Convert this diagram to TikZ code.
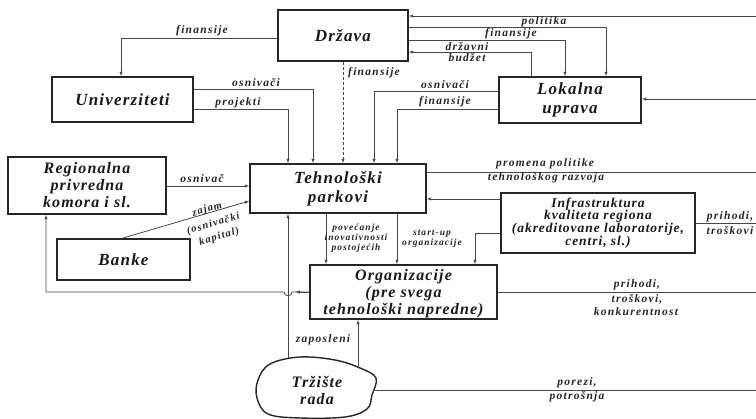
\documentclass[tikz,border=0pt]{standalone}
\usepackage{fontspec}
\setmainfont{Liberation Serif}
\newfontfamily\boxfam[LetterSpace=7]{Liberation Serif}
\newfontfamily\lblfam[LetterSpace=11]{Liberation Serif}
\usetikzlibrary{arrows.meta,calc}

\newcommand\bigbox{\boxfam\bfseries\itshape\fontsize{17}{19}\selectfont}
\newcommand\midbox{\boxfam\bfseries\itshape\fontsize{16}{17}\selectfont}
\newcommand\infbox{\boxfam\bfseries\itshape\fontsize{13.5}{12.8}\selectfont}
\newcommand\lblA{\lblfam\bfseries\itshape\fontsize{11.5}{13.5}\selectfont}
\newcommand\lblS{\lblfam\bfseries\itshape\fontsize{9.5}{10}\selectfont}
\newcommand\lblR{\lblfam\bfseries\itshape\fontsize{10.5}{12.5}\selectfont}

\begin{document}
\begin{tikzpicture}[x=1pt,y=-1pt,
  box/.style={draw=black!85, line width=1.4pt, fill=white, inner sep=0pt,
              align=center, text=black!90, font=\bigbox},
  conn/.style={draw=black!72, line width=0.8pt},
  arr/.style={conn, -{Latex[length=4.5pt,width=3.4pt]}},
  lbl/.style={inner sep=0pt, text=black!85, font=\lblA, align=center},
  slbl/.style={lbl, font=\lblS},
  rlbl/.style={inner sep=0pt, text=black!85, font=\lblR, rotate=16.5, anchor=base}]
\useasboundingbox (0,0) rectangle (756,419);

% ---- boxes ----
\node[box, minimum width=130pt, minimum height=51pt] (drz) at (343,35.5) {Država};
\node[box, minimum width=141pt, minimum height=45pt] (uni) at (122.5,99.5) {Univerziteti};
\node[box, minimum width=142pt, minimum height=46pt] (lok) at (570,100) {Lokalna\\uprava};
\node[box, minimum width=158pt, minimum height=57pt, font=\midbox] (reg) at (87,185.5) {Regionalna\\privredna\\komora i sl.};
\node[box, minimum width=176pt, minimum height=49pt] (tp) at (338,188.5) {Tehnološki\\parkovi};
\node[box, minimum width=194pt, minimum height=60pt, font=\infbox] (inf) at (598,223) {Infrastruktura\\kvaliteta regiona\\(akreditovane laboratorije,\\centri, sl.)};
\node[box, minimum width=133pt, minimum height=41pt] (ban) at (123.5,259.5) {Banke};
\node[box, minimum width=187pt, minimum height=54pt, font=\midbox, text depth=0pt] (org) at (403.5,292) {Organizacije\\(pre svega\\tehnološki napredne)};

% labour market blob
\draw[black!85, line width=1.4pt, fill=white] plot[smooth cycle, tension=0.6] coordinates
  {(258,380) (270,364) (300,357) (335,360) (360,368) (376,378) (372,395) (367,409) (345,417) (300,418) (268,414) (257,398)};
\node[inner sep=0pt, align=center, text=black!90, font=\midbox] (trz) at (317,390) {Tržište\\rada};

% ---- connectors on the right edge ----
\coordinate (r16) at (756,16);
\draw[arr] (r16) -- (r16 -| drz.east);
\coordinate (bPol) at (606,27);
\draw[arr] (drz.east |- bPol) -- (bPol) -- (bPol |- lok.north);
\node[lbl] at (544,22) {politika};
\coordinate (bFinL) at (565,40);
\draw[arr] (drz.east |- bFinL) -- (bFinL) -- (bFinL |- lok.north);
\node[lbl] at (511,34) {finansije};
\coordinate (bBud) at (531,52);
\draw[arr] (bBud |- lok.north) -- (bBud) -- (bBud -| drz.east);
\node[lbl] at (467,46.5) {državni};
\node[lbl] at (467,57.5) {budžet};
\coordinate (r99) at (756,99);
\draw[arr] (r99) -- (r99 -| lok.east);

% ---- Država -> Univerziteti ----
\coordinate (bUni) at (121,38);
\draw[arr] (drz.west |- bUni) -- (bUni) -- (bUni |- uni.north);
\node[lbl] at (202,31) {finansije};

% ---- into Tehnološki parkovi from above ----
\coordinate (bUo) at (313,89);
\draw[arr] (uni.east |- bUo) -- (bUo) -- (bUo |- tp.north);
\node[lbl] at (256,83) {osnivači};
\coordinate (bUp) at (288,109);
\draw[arr] (uni.east |- bUp) -- (bUp) -- (bUp |- tp.north);
\node[lbl] at (238,103) {projekti};
\draw[arr, dash pattern=on 3pt off 2pt] (drz.south) -- (drz.south |- tp.north);
\node[lbl] at (374,73) {finansije};
\coordinate (bLo) at (374,91);
\draw[arr] (lok.west |- bLo) -- (bLo) -- (bLo |- tp.north);
\node[lbl] at (445,85) {osnivači};
\coordinate (bLf) at (397,109);
\draw[arr] (lok.west |- bLf) -- (bLf) -- (bLf |- tp.north);
\node[lbl] at (445,101.5) {finansije};

% ---- Tehnološki parkovi, right side ----
\coordinate (r172) at (756,172);
\draw[conn] (tp.east |- r172) -- (r172);
\node[lbl] at (545,164) {promena politike};
\node[lbl] at (546,177.5) {tehnološkog razvoja};
\coordinate (cIT) at (470,199);
\draw[arr] (inf.west |- cIT) -- (tp.east |- cIT);

% ---- Infrastruktura ----
\coordinate (bIO) at (475,233);
\draw[arr] (inf.west |- bIO) -- (bIO) -- (bIO |- org.north);
\coordinate (r223) at (756,223);
\draw[conn] (inf.east) -- (r223);
\node[lbl] at (730,217) {prihodi,};
\node[lbl] at (730,231) {troškovi};

% ---- left side ----
\coordinate (cRT) at (200,186);
\draw[arr] (reg.east |- cRT) -- (tp.west |- cRT);
\node[lbl] at (202,179) {osnivač};
\coordinate (cBT) at (240,201);
\draw[arr] ([xshift=-1.5pt]ban.north) -- (tp.west |- cBT);
% loan label, one line above the connector and two below it
\node[rlbl] at (208,212) {zajam};
\node[rlbl] at (214,226.5) {(osnivački};
\node[rlbl] at (220,239.5) {kapital)};

% ---- Tehnološki parkovi -> Organizacije ----
\coordinate (cPO) at (326,240);
\draw[arr] (tp.south -| cPO) -- (org.north -| cPO);
\node[slbl] at (356,238) {povećanje\\inovativnosti\\postojećih};
\coordinate (cSO) at (397,240);
\draw[arr] (tp.south -| cSO) -- (org.north -| cSO);
\node[slbl] at (432,238.5) {start-up\\organizacije};

% ---- Organizacije -> Regionalna (with a hop) ----
\coordinate (hopR) at (292,292);
\coordinate (hopL) at (284,292);
\coordinate (retC) at (46,292);
\draw[arr] (org.west) -- (hopR) .. controls +(0,5) and +(0,5) .. (hopL) -- (retC) -- (retC |- reg.south);
\draw[arr] (org.west) -- ++(-14,0);
\coordinate (r292) at (756,292);
\draw[conn] (org.east) -- (r292);
\node[lbl] at (637,285) {prihodi,};
\node[lbl] at (637,299) {troškovi,};
\node[lbl] at (636,312) {konkurentnost};

% ---- Tržište rada ----
\coordinate (tA) at (288,358);
\draw[arr] (tA) -- (tA |- tp.south);
\coordinate (tB) at (358,366);
\draw[arr] (tB) -- (tB |- org.south);
\node[lbl] at (323,340) {zaposleni};
\coordinate (tC) at (375,390);
\coordinate (r390) at (756,390);
\draw[conn] (tC) -- (r390);
\node[lbl] at (577,383) {porezi,};
\node[lbl] at (577,397) {potrošnja};
\end{tikzpicture}
\end{document}
